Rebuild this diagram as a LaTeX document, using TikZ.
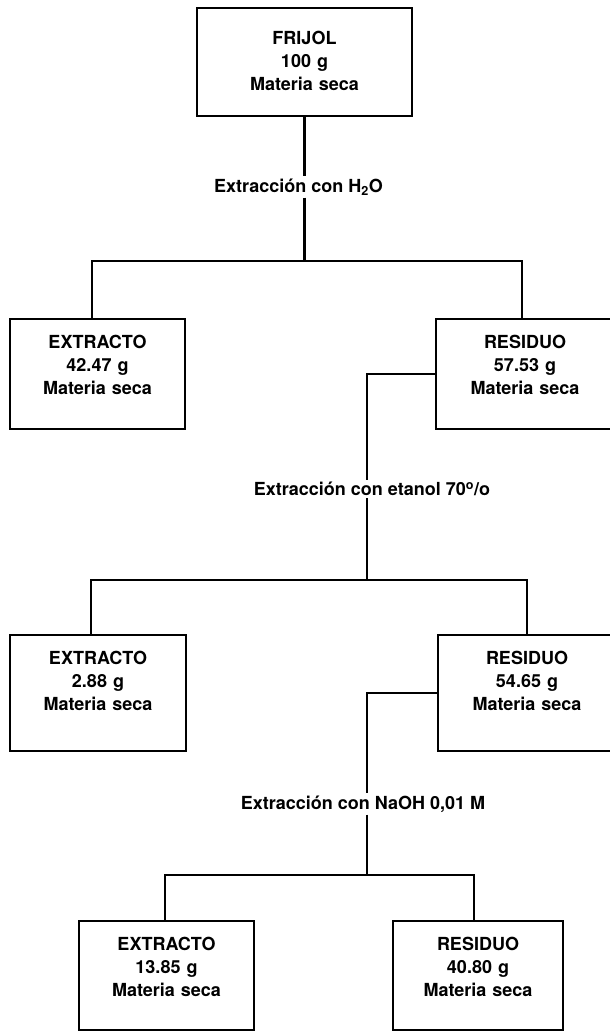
\documentclass[tikz,border=0pt]{standalone}
\usepackage{fontspec}
\setmainfont{TeX Gyre Heros}

\begin{document}
\begin{tikzpicture}
	[x=1pt,y=-1pt,
	every node/.style={font=\bfseries\fontsize{18}{23}\selectfont},
	caja/.style={rectangle,draw,line width=2.4pt,inner sep=0pt,align=center,text height=29pt,anchor=north},
	paso/.style={inner xsep=0pt,inner ysep=2pt},
	linea/.style={line width=2.4pt}]
	\useasboundingbox (0,0) rectangle (610,1031);
	\node[caja,text width=215pt,text height=36pt,text depth=72pt] (frijol) at (304.5,7) {FRIJOL\\100 g\\Materia seca};
	\node[caja,text width=175pt,text depth=81pt] (ext1) at (97.5,318) {EXTRACTO\\42.47 g\\Materia seca};
	\node[caja,text width=178pt,text depth=81pt] (res1) at (525,318) {RESIDUO\\57.53 g\\Materia seca};
	\node[caja,text width=176pt,text depth=87pt] (ext2) at (98,634) {EXTRACTO\\2.88 g\\Materia seca};
	\node[caja,text width=178pt,text depth=87pt] (res2) at (527,634) {RESIDUO\\54.65 g\\Materia seca};
	\node[caja,text width=175pt,text depth=80pt] (ext3) at (166.5,920) {EXTRACTO\\13.85 g\\Materia seca};
	\node[caja,text width=170pt,text depth=80pt] (res3) at (478,920) {RESIDUO\\40.80 g\\Materia seca};
	\node[paso] (paso1) at (298.5,187) {Extracción con H\textsubscript{2}O};
	\node[paso] (paso2) at (372,489) {Extracción con etanol 70\textsuperscript{o}/o};
	\node[paso] (paso3) at (363,804) {Extracción con NaOH 0,01 M};
	\coordinate (bif1) at (304.5,261);
	\coordinate (bif2) at (367,580);
	\coordinate (bif3) at (367,875);
	% primera extraccion
	\draw[linea] (frijol.south) -- (frijol.south |- paso1.north);
	\draw[linea] (frijol.south |- paso1.south) -- (bif1);
	\draw[linea] ([xshift=-5.5pt]ext1.north) |- (bif1) -| ([xshift=-3pt]res1.north);
	% segunda extraccion
	\draw[linea] (res1.west) -| (paso2.north -| bif2);
	\draw[linea] (paso2.south -| bif2) -- (bif2);
	\draw[linea] ([xshift=-7pt]ext2.north) |- (bif2) -| (res2.north);
	% tercera extraccion
	\draw[linea] (res2.west) -| (paso3.north -| bif3);
	\draw[linea] (paso3.south -| bif3) -- (bif3);
	\draw[linea] ([xshift=-1.5pt]ext3.north) |- (bif3) -| ([xshift=-4pt]res3.north);
\end{tikzpicture}
\end{document}
